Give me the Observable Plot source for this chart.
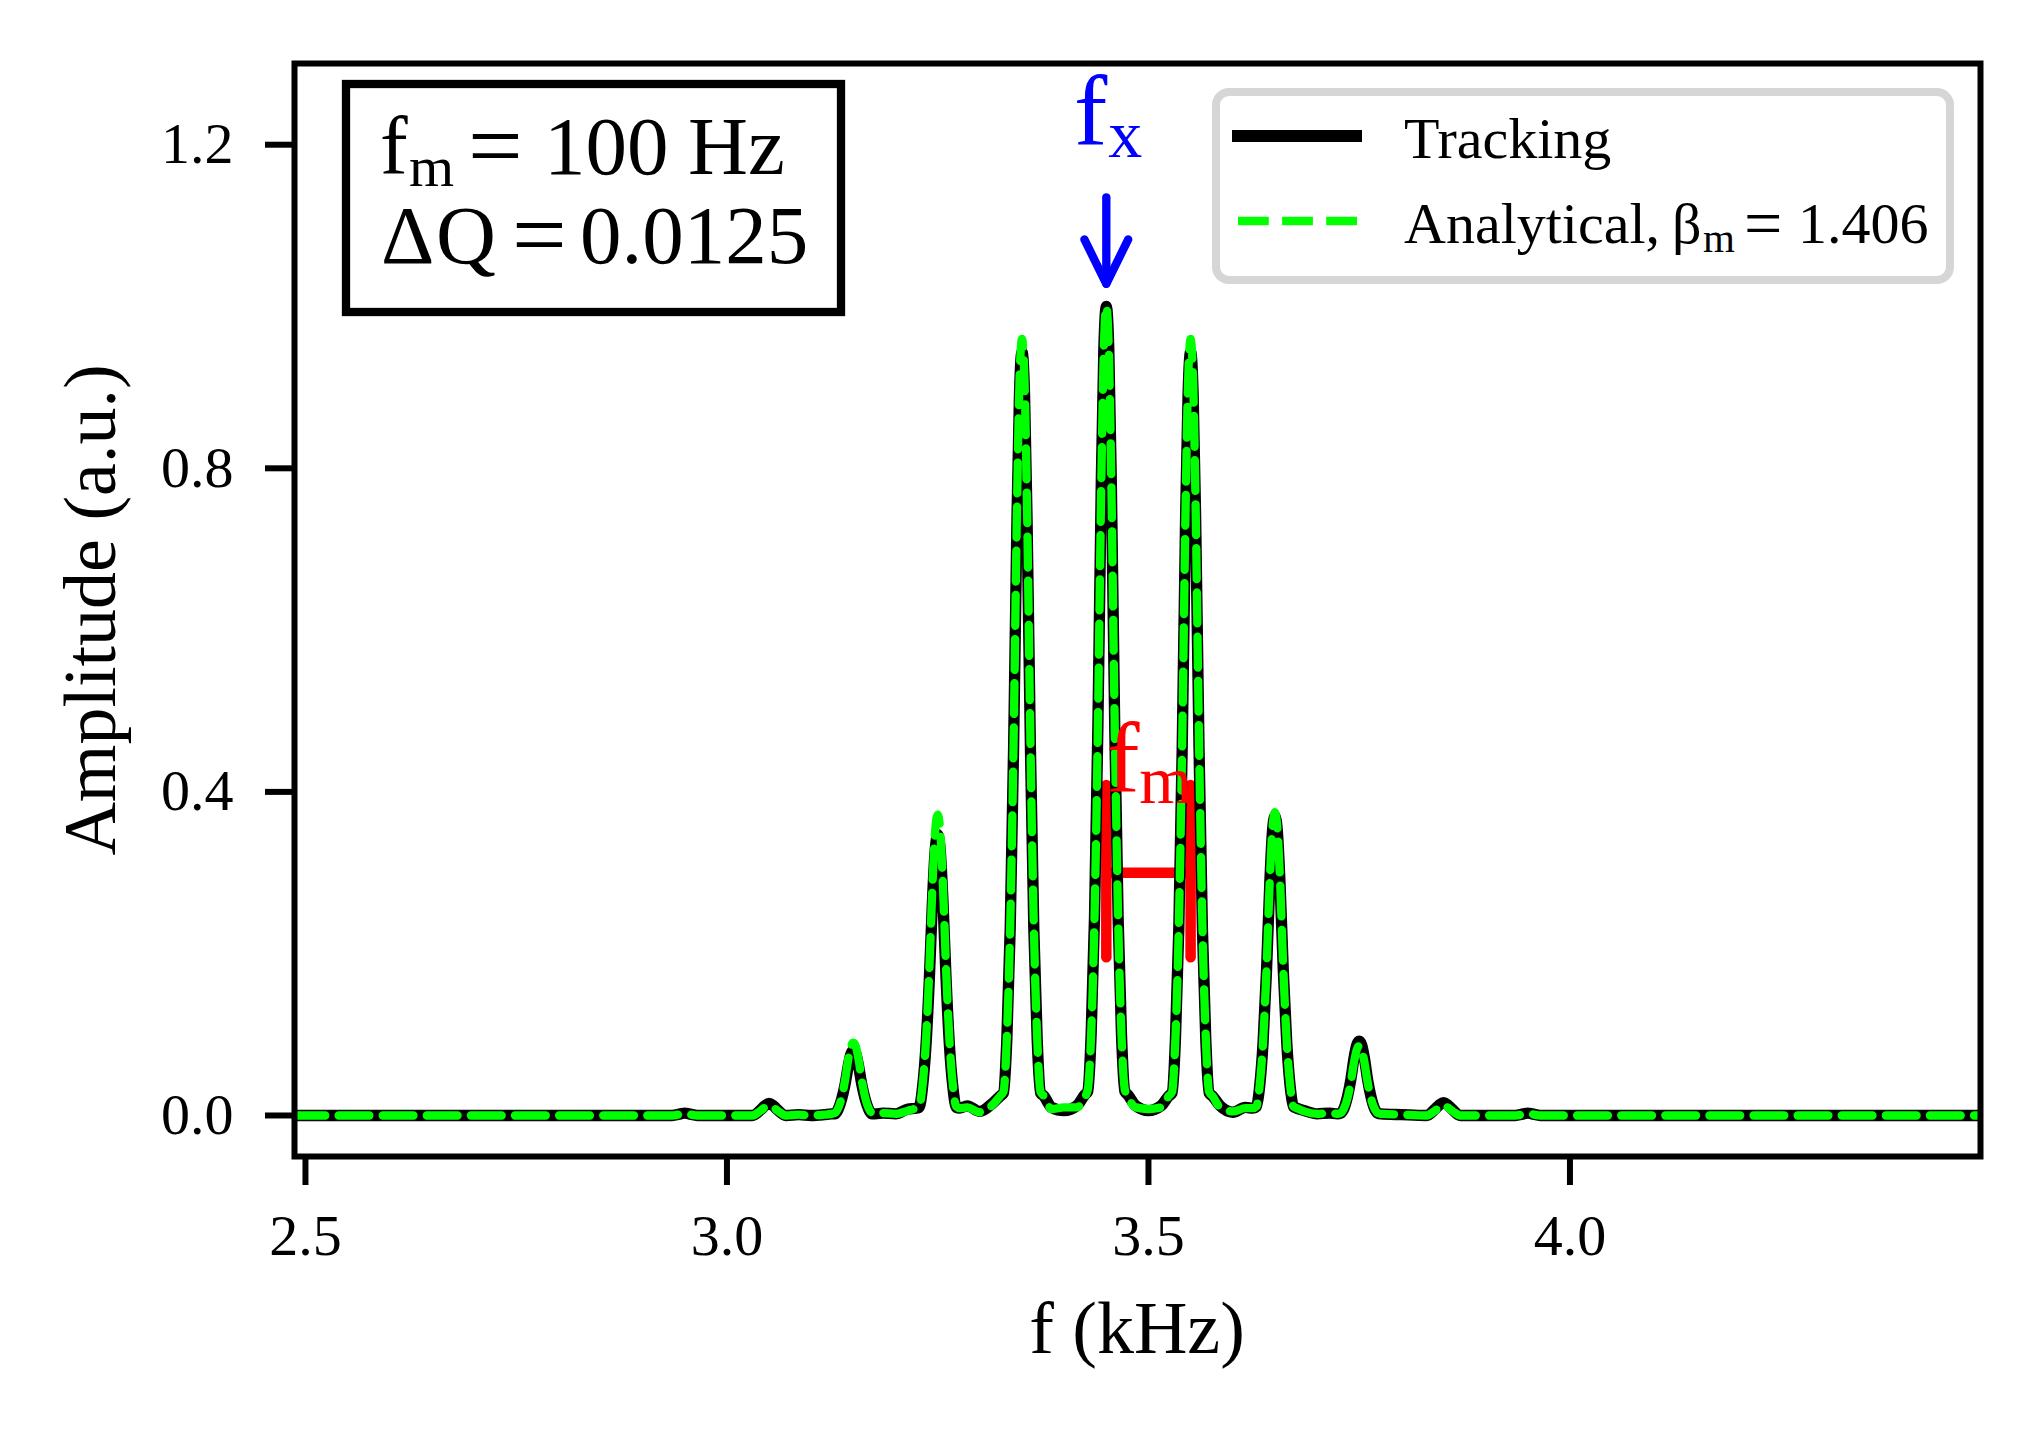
<!DOCTYPE html>
<html>
<head>
<meta charset="utf-8">
<script src="https://cdn.jsdelivr.net/npm/d3@7"></script>
<script src="https://cdn.jsdelivr.net/npm/@observablehq/plot@0.6"></script>
<style>
  html, body { margin: 0; padding: 0; background: #ffffff; overflow: hidden; }
  svg { display: block; }
</style>
</head>
<body>
<div id="chart"></div>
<script>
// ---- data ----
const freq = [
  2.487, 2.800, 2.900,
  2.935, 2.945, 2.950, 2.955, 2.965,
  3.000,
  3.030, 3.040, 3.045, 3.050, 3.055, 3.060, 3.070,
  3.085, 3.100, 3.115,
  3.124, 3.128, 3.132, 3.136, 3.140, 3.144, 3.147, 3.150, 3.153, 3.156, 3.160, 3.164, 3.168, 3.172, 3.176,
  3.185, 3.200, 3.215,
  3.224, 3.228, 3.232, 3.236, 3.240, 3.244, 3.247, 3.250, 3.253, 3.256, 3.260, 3.264, 3.268, 3.272, 3.276,
  3.285, 3.300, 3.315,
  3.324, 3.328, 3.332, 3.336, 3.340, 3.344, 3.347, 3.350, 3.353, 3.356, 3.360, 3.364, 3.368, 3.372, 3.376,
  3.385, 3.400, 3.415,
  3.424, 3.428, 3.432, 3.436, 3.440, 3.444, 3.447, 3.450, 3.453, 3.456, 3.460, 3.464, 3.468, 3.472, 3.476,
  3.485, 3.500, 3.515,
  3.524, 3.528, 3.532, 3.536, 3.540, 3.544, 3.547, 3.550, 3.553, 3.556, 3.560, 3.564, 3.568, 3.572, 3.576,
  3.585, 3.600, 3.615,
  3.624, 3.628, 3.632, 3.636, 3.640, 3.644, 3.647, 3.650, 3.653, 3.656, 3.660, 3.664, 3.668, 3.672, 3.676,
  3.685, 3.700, 3.715,
  3.724, 3.728, 3.732, 3.736, 3.740, 3.744, 3.747, 3.750, 3.753, 3.756, 3.760, 3.764, 3.768, 3.772, 3.776,
  3.800,
  3.830, 3.840, 3.845, 3.850, 3.855, 3.860, 3.870,
  3.900,
  3.935, 3.945, 3.950, 3.955, 3.965,
  4.000, 4.200, 4.487
];

const tracking = [
  0, 0, 0,
  0, 0.002, 0.003, 0.002, 0,
  0,
  0, 0.007, 0.012, 0.015, 0.012, 0.007, 0,
  0.001, 0, 0.001,
  0.002, 0.002, 0.008, 0.020, 0.038, 0.062, 0.076, 0.080, 0.076, 0.062, 0.038, 0.020, 0.008, 0.002, 0.002,
  0.003, 0.002, 0.008,
  0.009, 0.010, 0.035, 0.085, 0.167, 0.271, 0.328, 0.347, 0.328, 0.271, 0.167, 0.085, 0.035, 0.010, 0.009,
  0.012, 0.005, 0.015,
  0.024, 0.028, 0.094, 0.231, 0.453, 0.736, 0.892, 0.944, 0.892, 0.736, 0.453, 0.231, 0.094, 0.028, 0.024,
  0.010, 0.006, 0.012,
  0.025, 0.030, 0.100, 0.245, 0.480, 0.780, 0.945, 1.000, 0.945, 0.780, 0.480, 0.245, 0.100, 0.030, 0.025,
  0.012, 0.006, 0.012,
  0.024, 0.028, 0.094, 0.231, 0.453, 0.736, 0.892, 0.944, 0.892, 0.736, 0.453, 0.231, 0.094, 0.028, 0.024,
  0.012, 0.004, 0.010,
  0.009, 0.011, 0.037, 0.091, 0.178, 0.289, 0.350, 0.370, 0.350, 0.289, 0.178, 0.091, 0.037, 0.011, 0.009,
  0.006, 0.002, 0.003,
  0.002, 0.003, 0.009, 0.023, 0.044, 0.072, 0.087, 0.092, 0.087, 0.072, 0.044, 0.023, 0.009, 0.003, 0.002,
  0.001,
  0, 0.008, 0.013, 0.016, 0.013, 0.008, 0,
  0,
  0, 0.002, 0.003, 0.002, 0,
  0, 0, 0
];

const analytical = [
  0, 0, 0,
  0, 0.0015, 0.002, 0.0015, 0,
  0,
  0, 0.006, 0.010, 0.012, 0.010, 0.006, 0,
  0.001, 0, 0.001,
  0.002, 0.003, 0.009, 0.022, 0.043, 0.070, 0.085, 0.090, 0.085, 0.070, 0.043, 0.022, 0.009, 0.003, 0.002,
  0.003, 0.002, 0.006,
  0.009, 0.011, 0.037, 0.091, 0.179, 0.290, 0.352, 0.372, 0.352, 0.290, 0.179, 0.091, 0.037, 0.011, 0.009,
  0.010, 0.004, 0.013,
  0.024, 0.029, 0.096, 0.235, 0.461, 0.749, 0.907, 0.960, 0.907, 0.749, 0.461, 0.235, 0.096, 0.029, 0.024,
  0.008, 0.010, 0.010,
  0.022, 0.032, 0.100, 0.245, 0.480, 0.780, 0.945, 1.000, 0.945, 0.780, 0.480, 0.245, 0.100, 0.032, 0.022,
  0.010, 0.008, 0.010,
  0.024, 0.029, 0.096, 0.235, 0.461, 0.749, 0.907, 0.960, 0.907, 0.749, 0.461, 0.235, 0.096, 0.029, 0.024,
  0.010, 0.005, 0.009,
  0.009, 0.011, 0.038, 0.092, 0.180, 0.293, 0.354, 0.375, 0.354, 0.293, 0.180, 0.092, 0.038, 0.011, 0.009,
  0.005, 0.002, 0.003,
  0.002, 0.003, 0.009, 0.021, 0.041, 0.067, 0.081, 0.086, 0.081, 0.067, 0.041, 0.021, 0.009, 0.003, 0.002,
  0.001,
  0, 0.006, 0.010, 0.013, 0.010, 0.006, 0,
  0,
  0, 0.0015, 0.002, 0.0015, 0,
  0, 0, 0
];

const xTicks = [2.5, 3.0, 3.5, 4.0];
const yTicks = [0.0, 0.4, 0.8, 1.2];
const xDomain = [2.487, 4.487];
const yDomain = [-0.0507, 1.3004];

// annotations (data coordinates)
const fxF = [3.45];
const fxLabelA = 1.2;
const fxShaftA = [1.135, 1.028];
const fxHeadF = [3.424, 3.45, 3.476];
const fxHeadA = [1.083, 1.028, 1.083];
const fmCapsF = [3.45, 3.55];
const fmCapsA = [0.195, 0.408];
const fmBarA = [0.30];
const fmLabelA = 0.40;

const seriesNames = ["Tracking", "Analytical"];

// ---- build ----
const rows = freq.map((f, i) => ({f, tracking: tracking[i], analytical: analytical[i]}));
const headRows = fxHeadF.map((f, i) => ({f, a: fxHeadA[i]}));

const W = 2043, H = 1429;
const svgNode = Plot.plot({
  width: W,
  height: H,
  marginLeft: 294,
  marginRight: 63,
  marginTop: 63,
  marginBottom: 273,
  style: {
    fontFamily: "'Liberation Serif', 'Times New Roman', 'DejaVu Serif', serif",
    background: "#ffffff",
    color: "#000000",
    overflow: "visible"
  },
  x: {domain: xDomain},
  y: {domain: yDomain},
  marks: [
    // f_m bracket (drawn under the curves)
    Plot.ruleX(fmCapsF, {x: d => d, y1: () => fmCapsA[0], y2: () => fmCapsA[1],
      stroke: "#ff0000", strokeWidth: 10.5, strokeLinecap: "round"}),
    Plot.link(fmBarA, {x1: () => fmCapsF[0], x2: () => fmCapsF[1], y1: d => d, y2: d => d,
      stroke: "#ff0000", strokeWidth: 10.5}),
    // curves
    Plot.line(rows, {x: "f", y: "tracking", stroke: "#000000", strokeWidth: 11.3,
      curve: "monotone-x", strokeLinejoin: "round", clip: true}),
    Plot.line(rows, {x: "f", y: "analytical", stroke: "#00ff00", strokeWidth: 8.3,
      strokeDasharray: "30.8,13.3", curve: "monotone-x", clip: true}),
    // f_x arrow
    Plot.link(fxF, {x1: d => d, x2: d => d, y1: () => fxShaftA[0], y2: () => fxShaftA[1],
      stroke: "#0000ff", strokeWidth: 8.3, strokeLinecap: "round"}),
    Plot.line(headRows, {x: "f", y: "a", stroke: "#0000ff", strokeWidth: 8.3,
      strokeLinecap: "round", strokeLinejoin: "round"}),
    // f_x label
    Plot.text(fxF, {x: d => d, y: () => fxLabelA, text: () => "f", fontSize: 100,
      fill: "#0000ff", textAnchor: "end", lineAnchor: "bottom", dx: 1}),
    Plot.text(fxF, {x: d => d, y: () => fxLabelA, text: () => "x", fontSize: 68,
      fill: "#0000ff", textAnchor: "start", lineAnchor: "bottom", dx: 2, dy: 12}),
    // f_m label
    Plot.text([fmCapsF[0]], {x: d => d, y: () => fmLabelA, text: () => "f", fontSize: 100,
      fill: "#ff0000", textAnchor: "start", lineAnchor: "bottom", dx: 0}),
    Plot.text([fmCapsF[0]], {x: d => d, y: () => fmLabelA, text: () => "m", fontSize: 68,
      fill: "#ff0000", textAnchor: "start", lineAnchor: "bottom", dx: 33, dy: 11}),
    // frame & axes
    Plot.frame({stroke: "#000000", strokeWidth: 6}),
    Plot.axisX({ticks: xTicks, tickFormat: d => d.toFixed(1), tickSize: 29, tickPadding: 28,
      fontSize: 58, strokeWidth: 6, label: null}),
    Plot.axisY({ticks: yTicks, tickFormat: d => d.toFixed(1), tickSize: 29, tickPadding: 32,
      fontSize: 58, strokeWidth: 6, label: null})
  ]
});

document.getElementById("chart").appendChild(svgNode);

// ---- overlays: axis titles, parameter box, legend ----
const svg = d3.select(svgNode);
const FONT = "'Liberation Serif', 'Times New Roman', 'DejaVu Serif', serif";

svg.append("text")
  .attr("x", 1137).attr("y", 1353)
  .attr("text-anchor", "middle")
  .attr("font-family", FONT).attr("font-size", 74).attr("fill", "#000")
  .text("f (kHz)");

svg.append("text")
  .attr("transform", "translate(115,610) rotate(-90)")
  .attr("text-anchor", "middle")
  .attr("font-family", FONT).attr("font-size", 74).attr("fill", "#000")
  .text("Amplitude (a.u.)");

// parameter box
const box = svg.append("g").attr("font-family", FONT).attr("fill", "#000").attr("text-anchor", "start");
box.append("rect")
  .attr("x", 346).attr("y", 84).attr("width", 495).attr("height", 228)
  .attr("fill", "#ffffff").attr("stroke", "#000000").attr("stroke-width", 8.3);
const l1 = box.append("text").attr("font-size", 83).attr("text-anchor", "start");
l1.append("tspan").attr("x", 380).attr("y", 174).text("f");
l1.append("tspan").attr("x", 409).attr("y", 186).attr("font-size", 58).text("m");
l1.append("tspan").attr("x", 468).attr("y", 178).attr("font-size", 97).text("=");
l1.append("tspan").attr("x", 544).attr("y", 174).text("100");
l1.append("tspan").attr("x", 688).attr("y", 174).text("Hz");
const l2 = box.append("text").attr("font-size", 83).attr("text-anchor", "start");
l2.append("tspan").attr("x", 381).attr("y", 263).text("\u0394");
l2.append("tspan").attr("x", 436).attr("y", 263).text("Q");
l2.append("tspan").attr("x", 512).attr("y", 267).attr("font-size", 97).text("=");
l2.append("tspan").attr("x", 580).attr("y", 263).text("0.0125");

// legend
const leg = svg.append("g").attr("font-family", FONT).attr("fill", "#000").attr("text-anchor", "start");
leg.append("rect")
  .attr("x", 1216).attr("y", 92).attr("width", 734).attr("height", 188)
  .attr("rx", 13).attr("ry", 13)
  .attr("fill", "#ffffff").attr("fill-opacity", 0.85)
  .attr("stroke", "#d6d6d6").attr("stroke-width", 8);
leg.append("line")
  .attr("x1", 1232).attr("x2", 1362).attr("y1", 136).attr("y2", 136)
  .attr("stroke", "#000").attr("stroke-width", 12);
leg.append("line")
  .attr("x1", 1238).attr("x2", 1362).attr("y1", 221).attr("y2", 221)
  .attr("stroke", "#00ff00").attr("stroke-width", 8.3)
  .attr("stroke-dasharray", "30.8,13.3");
leg.append("text").attr("x", 1404).attr("y", 158).attr("font-size", 58)
  .attr("text-anchor", "start").text(seriesNames[0]);
const lt = leg.append("text").attr("font-size", 58).attr("text-anchor", "start");
lt.append("tspan").attr("x", 1404).attr("y", 243).text(seriesNames[1] + ",");
lt.append("tspan").attr("x", 1672).attr("y", 243).text("\u03B2");
lt.append("tspan").attr("x", 1703).attr("y", 252).attr("font-size", 41).text("m");
lt.append("tspan").attr("x", 1744).attr("y", 246).attr("font-size", 68).text("=");
lt.append("tspan").attr("x", 1798).attr("y", 243).text("1.406");
</script>
</body>
</html>
